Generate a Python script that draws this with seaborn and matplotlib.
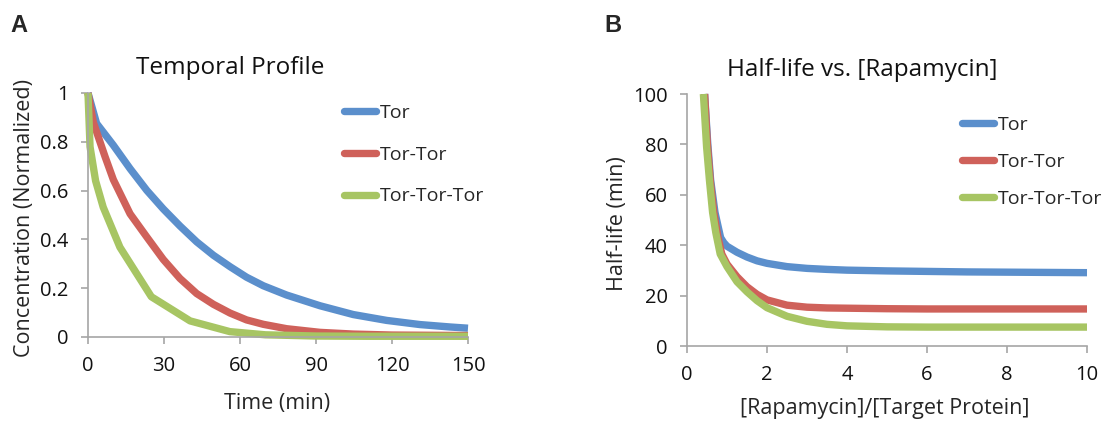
import matplotlib
matplotlib.use("Agg")
import matplotlib.pyplot as plt
import pandas as pd
import seaborn as sns

# ---- data ---------------------------------------------------------------
series_names = ["Tor", "Tor-Tor", "Tor-Tor-Tor"]
series_colors = ["#5b8fcc", "#cf615a", "#a7c563"]

# Panel A: normalized concentration over time (min)
time_tor = [0, 3.4, 10, 16.6, 23.2, 29.7, 36.3, 42.9, 49.5, 56.1, 62.6, 69.2,
            78.4, 91.6, 104.7, 117.9, 131, 143, 150]
conc_tor = [1.0, 0.875, 0.786, 0.690, 0.601, 0.525, 0.455, 0.390, 0.335, 0.288,
            0.245, 0.210, 0.172, 0.128, 0.092, 0.068, 0.051, 0.041, 0.036]

time_tortor = [0, 2.1, 6.7, 10, 16.6, 23.2, 29.7, 36.3, 42.9, 49.5, 56.1, 62.6,
               69.2, 78.4, 91.6, 104.7, 120, 135, 150]
conc_tortor = [1.0, 0.88, 0.74, 0.645, 0.505, 0.41, 0.318, 0.240, 0.178, 0.134,
               0.098, 0.070, 0.052, 0.034, 0.019, 0.012, 0.008, 0.007, 0.006]

time_tortortor = [0, 0.8, 3.0, 6.0, 12.6, 25.0, 40.3, 56, 70, 90, 110, 130, 150]
conc_tortortor = [1.0, 0.78, 0.64, 0.532, 0.368, 0.165, 0.066, 0.022, 0.009,
                  0.004, 0.003, 0.003, 0.003]

# Panel B: half-life (min) vs. [Rapamycin]/[Target Protein]
ratio_tor = [0.44, 0.52, 0.59, 0.70, 0.84, 0.92, 1.0, 1.25, 1.5, 1.75, 2.0, 2.5,
             3.0, 3.5, 4.0, 5, 6, 7, 8, 9, 10]
half_tor = [100, 80, 66, 53, 43, 41, 39.6, 37.2, 35.3, 33.8, 32.8, 31.5, 30.8,
            30.4, 30.1, 29.8, 29.6, 29.4, 29.3, 29.2, 29.1]

ratio_tortor = [0.44, 0.51, 0.585, 0.67, 0.77, 0.87, 1.0, 1.25, 1.5, 1.75, 2.0,
                2.5, 3.0, 3.5, 4.0, 5, 6, 7, 8, 9, 10]
half_tortor = [100, 80, 65, 53, 43.5, 36.5, 32.5, 27.5, 23.5, 20.5, 18.3, 16.2,
               15.4, 15.1, 15.0, 14.8, 14.7, 14.7, 14.7, 14.7, 14.7]

ratio_tortortor = [0.41, 0.49, 0.56, 0.64, 0.72, 0.83, 1.0, 1.25, 1.5, 1.75, 2.0,
                   2.5, 3.0, 3.5, 4.0, 5, 6, 7, 8, 9, 10]
half_tortortor = [100, 79, 66, 53, 45, 36.5, 31.5, 25.5, 21.5, 18, 15.2, 11.8,
                  9.8, 8.6, 8.0, 7.6, 7.5, 7.5, 7.5, 7.5, 7.5]

time_ticks = [0, 30, 60, 90, 120, 150]
conc_ticks = [0, 0.2, 0.4, 0.6, 0.8, 1]
conc_tick_labels = ["0", "0.2", "0.4", "0.6", "0.8", "1"]
ratio_ticks = [0, 2, 4, 6, 8, 10]
half_ticks = [0, 20, 40, 60, 80, 100]

# ---- style --------------------------------------------------------------
sns.set_theme(style="white")
plt.rcParams["font.family"] = ["Open Sans", "DejaVu Sans"]
axis_gray = "#a6a6a6"
W, H = 1104, 421


def long_frame(xs, ys, xname, yname):
    parts = [pd.DataFrame({xname: x, yname: y, "Construct": name})
             for name, x, y in zip(series_names, xs, ys)]
    return pd.concat(parts, ignore_index=True)


def draw_panel(ax, df, xname, yname):
    sns.lineplot(data=df, x=xname, y=yname, hue="Construct",
                 hue_order=series_names, palette=series_colors,
                 linewidth=5.3, estimator=None, sort=False, legend=False, ax=ax)
    for line, name in zip(ax.lines, series_names):
        line.set_label(name)
        line.set_solid_capstyle("butt")
        line.set_solid_joinstyle("round")
        line.set_clip_on(False)
    sns.despine(ax=ax)
    for side in ("left", "bottom"):
        ax.spines[side].set_color(axis_gray)
        ax.spines[side].set_linewidth(1.2)
    ax.tick_params(axis="both", which="major", bottom=True, left=True,
                   direction="out", length=4.8, width=1.2, color=axis_gray,
                   pad=9.0, labelsize=14.5, labelcolor="#111111")
    ax.grid(False)


def add_legend(ax, top_px, left_px, spacing):
    leg = ax.legend(handles=ax.lines, labels=series_names, loc="upper left",
                    bbox_to_anchor=(left_px / W, 1 - top_px / H),
                    bbox_transform=ax.figure.transFigure, frameon=False,
                    fontsize=14, handlelength=1.65, handletextpad=0.2,
                    labelspacing=spacing, borderpad=0, borderaxespad=0)
    for h in leg.legend_handles:
        h.set_solid_capstyle("round")
        h.set_linewidth(5.3)
    return leg


fig = plt.figure(figsize=(W / 100, H / 100), dpi=100)
ax_a = fig.add_axes([88 / W, 1 - 337 / H, 380 / W, 244 / H])
ax_b = fig.add_axes([687 / W, 1 - 346 / H, 400 / W, 252 / H])

# ---- panel A ------------------------------------------------------------
df_a = long_frame([time_tor, time_tortor, time_tortortor],
                  [conc_tor, conc_tortor, conc_tortortor],
                  "Time (min)", "Concentration (Normalized)")
draw_panel(ax_a, df_a, "Time (min)", "Concentration (Normalized)")
ax_a.set_xlim(0, 150)
ax_a.set_ylim(0, 1)
ax_a.set_xticks(time_ticks)
ax_a.set_yticks(conc_ticks)
ax_a.set_yticklabels(conc_tick_labels)
ax_a.set_xlabel("Time (min)", fontsize=15.5)
ax_a.set_ylabel("Concentration (Normalized)", fontsize=15.5)
ax_a.xaxis.label.set_va("baseline")
ax_a.xaxis.set_label_coords((277 - 88) / 380, (337 - 409) / 244)
ax_a.yaxis.label.set_va("baseline")
ax_a.yaxis.set_label_coords((30 - 88) / 380, (337 - 218) / 244)
add_legend(ax_a, 104, 344, 1.22)

# ---- panel B ------------------------------------------------------------
df_b = long_frame([ratio_tor, ratio_tortor, ratio_tortortor],
                  [half_tor, half_tortor, half_tortortor],
                  "[Rapamycin]/[Target Protein]", "Half-life (min)")
draw_panel(ax_b, df_b, "[Rapamycin]/[Target Protein]", "Half-life (min)")
ax_b.set_xlim(0, 10)
ax_b.set_ylim(0, 100)
ax_b.set_xticks(ratio_ticks)
ax_b.set_yticks(half_ticks)
ax_b.set_xlabel("[Rapamycin]/[Target Protein]", fontsize=15.5)
ax_b.set_ylabel("Half-life (min)", fontsize=15.5)
ax_b.xaxis.label.set_va("baseline")
ax_b.xaxis.set_label_coords((885 - 687) / 400, (346 - 414) / 252)
ax_b.yaxis.label.set_va("baseline")
ax_b.yaxis.set_label_coords((623 - 687) / 400, (346 - 224) / 252)
add_legend(ax_b, 116, 962, 0.98)

# ---- titles and panel letters ------------------------------------------
fig.text(230 / W, 1 - 74 / H, "Temporal Profile", ha="center", va="baseline",
         fontsize=17.5, color="#111111")
fig.text(862 / W, 1 - 76 / H, "Half-life vs. [Rapamycin]", ha="center",
         va="baseline", fontsize=17.5, color="#111111")
fig.text(10 / W, 1 - 32 / H, "A", ha="left", va="baseline", fontsize=17,
         fontweight="bold", family="Liberation Sans")
fig.text(604 / W, 1 - 32 / H, "B", ha="left", va="baseline", fontsize=17,
         fontweight="bold", family="Liberation Sans")

fig.savefig("out.png", dpi=100, facecolor="white")
